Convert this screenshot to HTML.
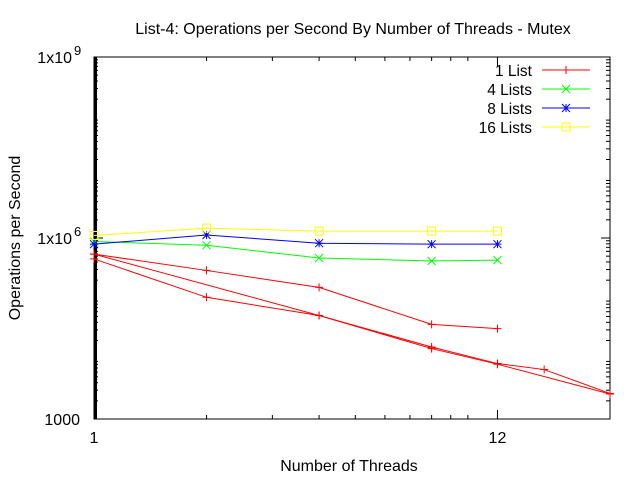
<!DOCTYPE html>
<html><head><meta charset="utf-8"><style>
body{margin:0;background:#fff}
svg{display:block;font-family:"Liberation Sans",sans-serif}
</style></head><body>
<svg id="chart" width="640" height="480" xmlns="http://www.w3.org/2000/svg">
<text x="353" y="34" font-size="16" text-anchor="middle">List-4: Operations per Second By Number of Threads - Mutex</text>
<text x="349" y="471" font-size="16" text-anchor="middle">Number of Threads</text>
<text transform="translate(20,238) rotate(-90)" font-size="16" text-anchor="middle">Operations per Second</text>
<g id="axes"></g>
<g id="series"></g>
<g id="legend"></g>
</svg>
<script>
const threads = [1, 2, 4, 8, 12, 16, 24];
const xTickValues = [1, 12];
const xMinorTicks = [2, 3, 4, 5, 6, 7, 8, 9, 10];
const yTickValues = [1e3, 1e6, 1e9];
const yTickLabels = ["1000", "1x10", "1x10"];
const yTickExps = ["", "6", "9"];
const seriesNames = ["1 List", "4 Lists", "8 Lists", "16 Lists"];
const seriesColors = ["#ff0000", "#00ff00", "#0000ff", "#ffff00"];
const oneListRunA_x = [1, 2, 4, 8, 12];
const oneListRunA_y = [5.4e5, 2.9e5, 1.52e5, 3.7e4, 3.14e4];
const oneListRunB_x = [1, 4, 8, 12, 16, 24];
const oneListRunB_y = [5.4e5, 5.2e4, 1.56e4, 8.3e3, 6.6e3, 2.65e3];
const oneListRunC_x = [1, 2, 4, 8, 12, 24];
const oneListRunC_y = [4.5e5, 1.04e5, 5.2e4, 1.47e4, 8.1e3, 2.6e3];
const fourLists_x = [1, 2, 4, 8, 12];
const fourLists_y = [8.75e5, 7.6e5, 4.66e5, 4.16e5, 4.3e5];
const eightLists_x = [1, 2, 4, 8, 12];
const eightLists_y = [7.9e5, 1.12e6, 8.2e5, 7.9e5, 7.9e5];
const sixteenLists_x = [1, 2, 4, 8, 12];
const sixteenLists_y = [1.1e6, 1.46e6, 1.3e6, 1.3e6, 1.3e6];

const L=94,R=610,T=57,B=419;
const xMin=1,xMax=24,yMin=1e3,yMax=1e9;
function sx(v){return L+(Math.log10(v)-Math.log10(xMin))/(Math.log10(xMax)-Math.log10(xMin))*(R-L);}
function sy(v){return B-(Math.log10(v)-Math.log10(yMin))/(Math.log10(yMax)-Math.log10(yMin))*(B-T);}
const NS="http://www.w3.org/2000/svg";
function mk(tag,attrs,parent){const e=document.createElementNS(NS,tag);for(const k in attrs)e.setAttribute(k,attrs[k]);parent.appendChild(e);return e;}
const axes=document.getElementById('axes');
const frame=mk('rect',{x:L,y:T,width:R-L,height:B-T,fill:'none',stroke:'#000','stroke-width':1},axes);


for(let k=3;k<9;k++){for(let m=2;m<10;m++){const y=sy(m*Math.pow(10,k));
 const t1=mk('line',{x1:L,x2:L+4,y1:y,y2:y,stroke:'#000'},axes);
 
 
 const t2=mk('line',{x1:R-4,x2:R,y1:y,y2:y,stroke:'#000'},axes);
 
 }}
xMinorTicks.forEach(v=>{const x=sx(v);
 const t=mk('line',{x1:x,x2:x,y1:B,y2:B-4,stroke:'#000'},axes);
 
 
 mk('line',{x1:x,x2:x,y1:T,y2:T+4,stroke:'#000'},axes);
});
mk('line',{x1:L+1.5,x2:L+1.5,y1:T,y2:B,stroke:'#000','stroke-width':3},axes);
yTickValues.forEach((v,i)=>{const y=sy(v);
 const t=mk('line',{x1:L,x2:L+9,y1:y,y2:y,stroke:'#000'},axes);
 
 
 mk('line',{x1:R-9,x2:R,y1:y,y2:y,stroke:'#000'},axes);
 const tx=mk('text',{x:yTickExps[i]?72:80,y:y+6,'font-size':16,'text-anchor':'end'},axes);
 tx.textContent=yTickLabels[i];
 
 
 if(yTickExps[i]){const e=mk('text',{x:74,y:y-2,'font-size':13},axes);e.textContent=yTickExps[i];
 
 }
});
xTickValues.forEach(v=>{const x=sx(v);
 const t=mk('line',{x1:x,x2:x,y1:B,y2:B-9,stroke:'#000'},axes);
 
 
 mk('line',{x1:x,x2:x,y1:T,y2:T+9,stroke:'#000'},axes);
 const tx=mk('text',{x:x,y:B+24,'font-size':16,'text-anchor':'middle'},axes);tx.textContent=String(v);
 
 
});
function marker(g,type,x,y,c){
 if(type===0){mk('path',{d:`M${x-4},${y}H${x+4}M${x},${y-4}V${y+4}`,stroke:c,fill:'none'},g);}
 else if(type===1){mk('path',{d:`M${x-4},${y-4}L${x+4},${y+4}M${x-4},${y+4}L${x+4},${y-4}`,stroke:c,fill:'none'},g);}
 else if(type===2){mk('path',{d:`M${x-4},${y}H${x+4}M${x},${y-4}V${y+4}M${x-4},${y-4}L${x+4},${y+4}M${x-4},${y+4}L${x+4},${y-4}`,stroke:c,fill:'none'},g);}
 else {mk('rect',{x:x-4,y:y-4,width:8,height:8,stroke:c,fill:'none'},g);}
}
const ser=document.getElementById('series');
const runs=[[oneListRunA_x,oneListRunA_y,0],[oneListRunB_x,oneListRunB_y,0],[oneListRunC_x,oneListRunC_y,0],
 [fourLists_x,fourLists_y,1],[eightLists_x,eightLists_y,2],[sixteenLists_x,sixteenLists_y,3]];
runs.forEach(([xs,ys,s])=>{
 const g=mk('g',{},ser);
 
 
 const pts=xs.map((x,i)=>sx(x)+','+sy(ys[i])).join(' ');
 const pl=mk('polyline',{points:pts,fill:'none',stroke:seriesColors[s],'stroke-width':1},g);
 
 
 xs.forEach((x,i)=>marker(g,s,sx(x),sy(ys[i]),seriesColors[s]));
});
const leg=document.getElementById('legend');
seriesNames.forEach((n,i)=>{const y=70+i*19;
 const g=mk('g',{},leg);
 
 
 const t=mk('text',{x:532,y:y+6,'font-size':15.5,'text-anchor':'end'},g);t.textContent=n;
 mk('line',{x1:542,x2:590,y1:y,y2:y,stroke:seriesColors[i]},g);
 marker(g,i,566,y,seriesColors[i]);
});
</script>
</body></html>
